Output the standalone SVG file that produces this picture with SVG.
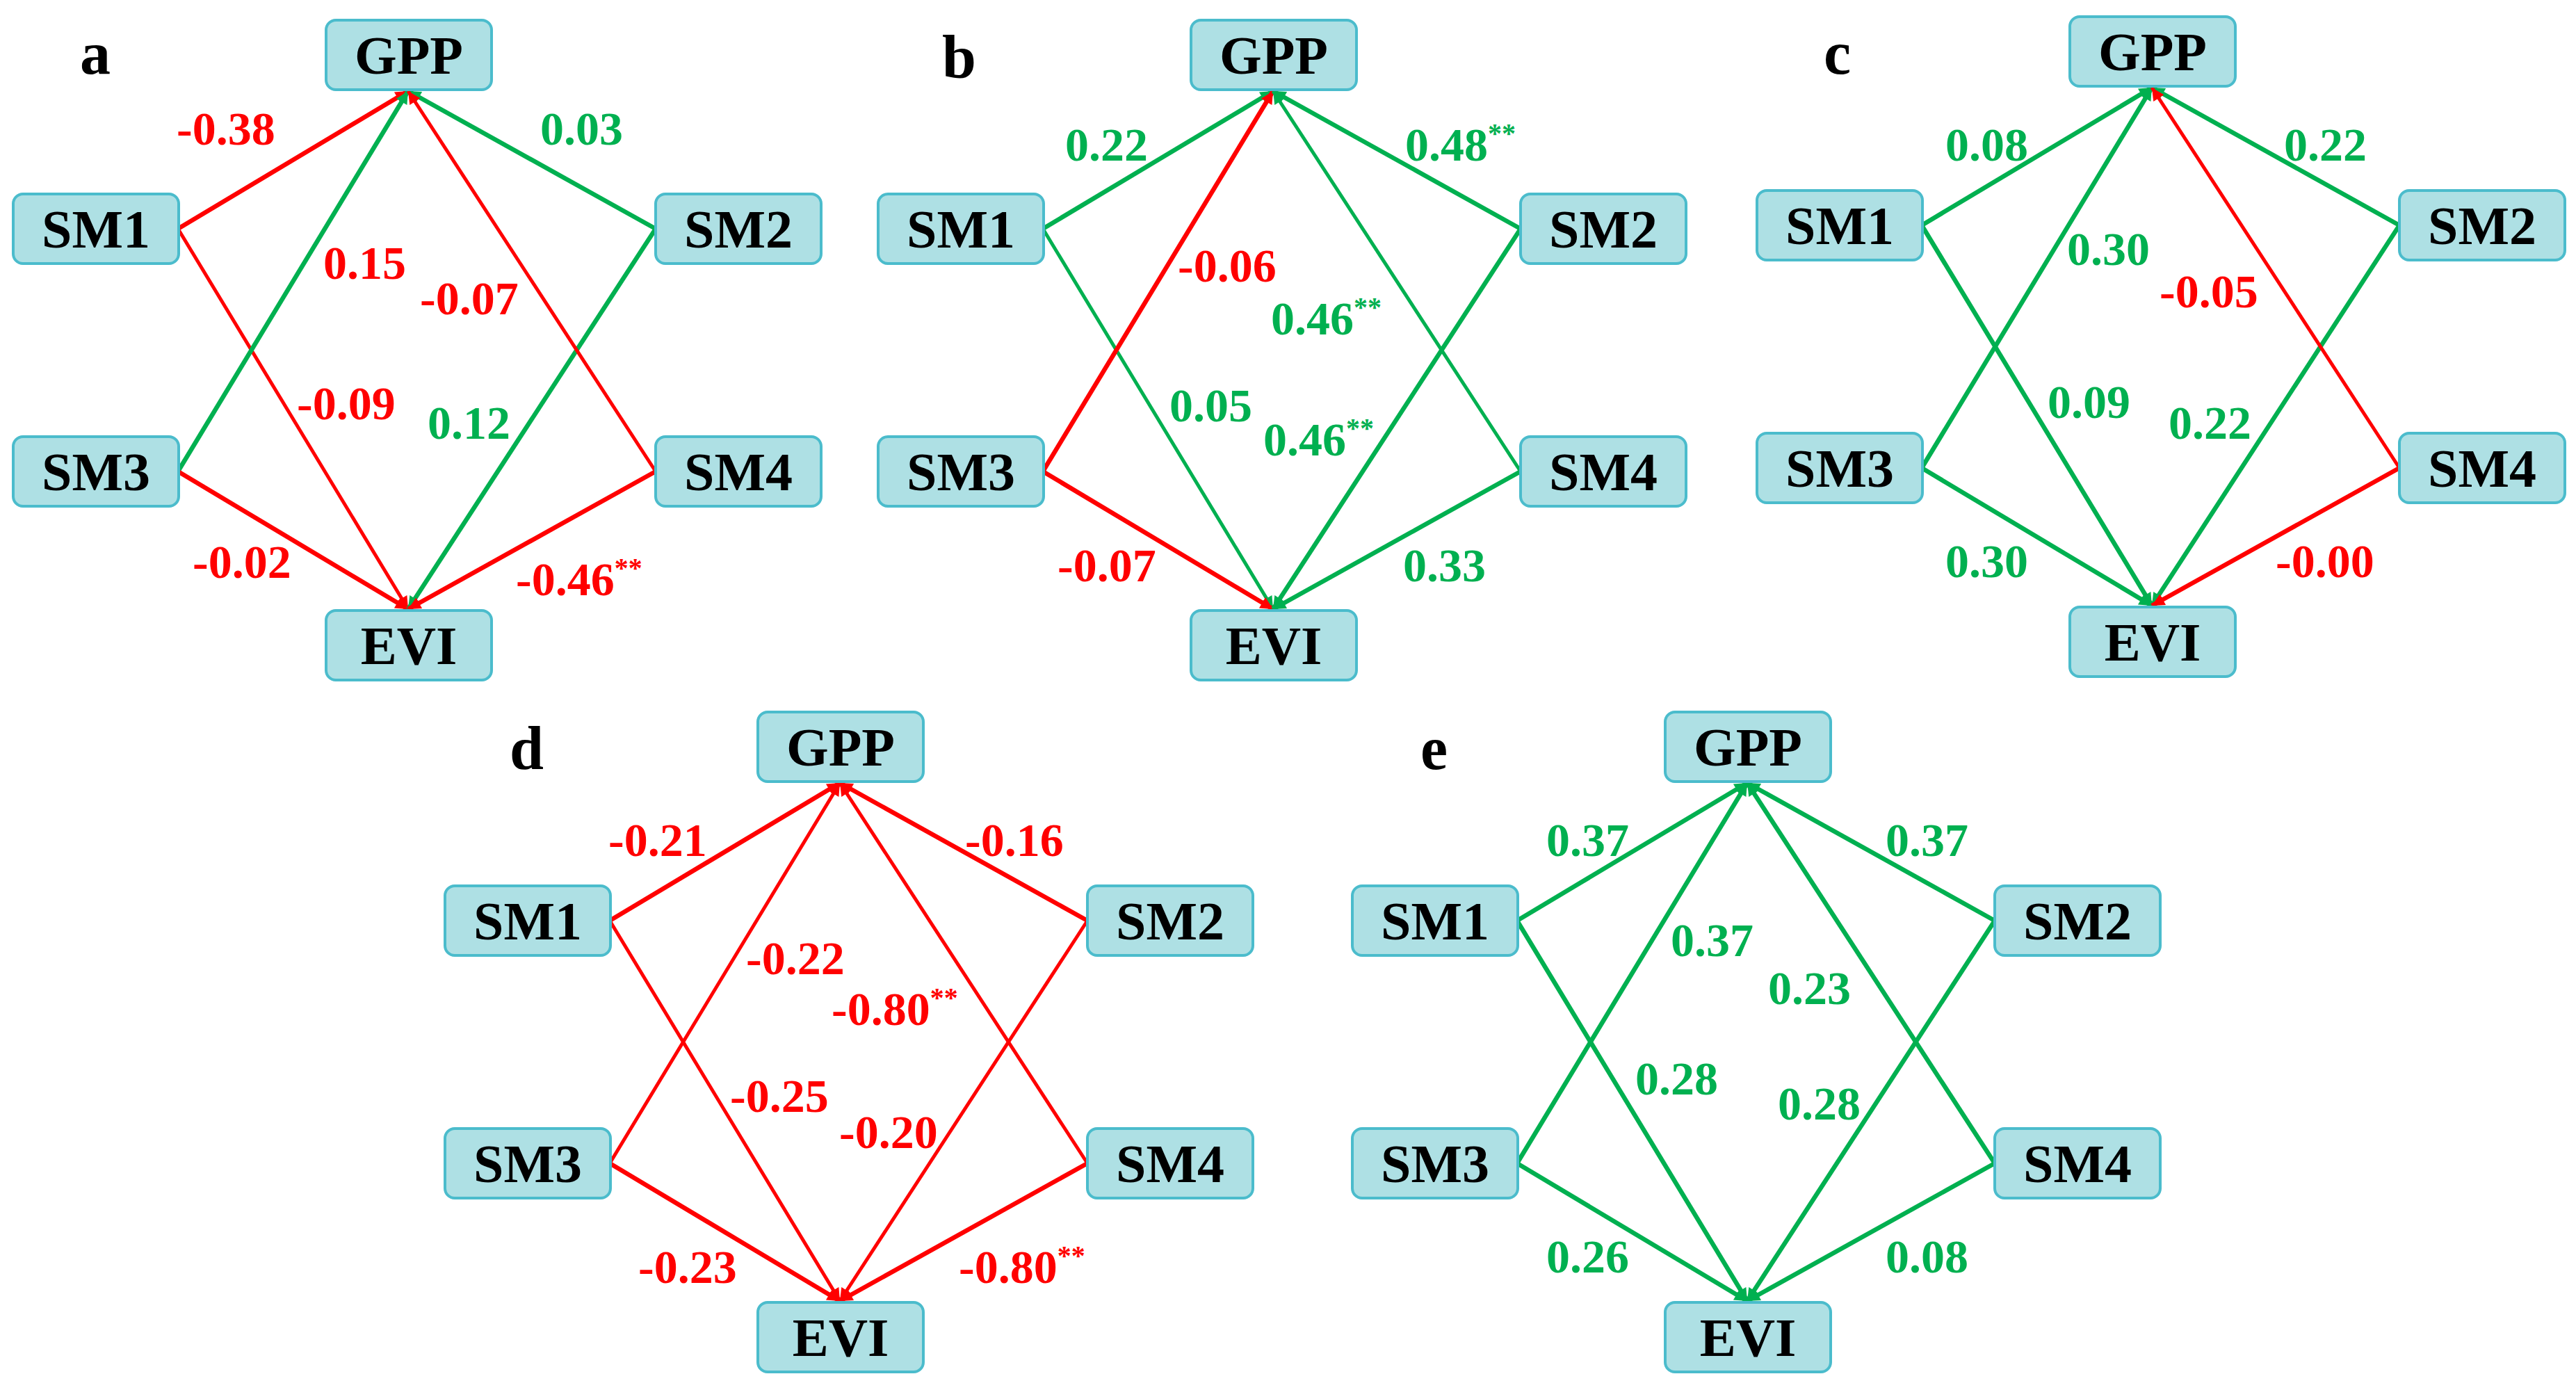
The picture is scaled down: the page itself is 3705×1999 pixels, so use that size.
<svg xmlns="http://www.w3.org/2000/svg" width="3705" height="1999" viewBox="0 0 3705 1999">
<style>
.n rect{fill:#aee0e4;stroke:#4bbccc;stroke-width:4}
.n text{font-family:"Liberation Serif",serif;font-weight:bold;font-size:78px;text-anchor:middle;fill:#000}
.pl{font-family:"Liberation Serif",serif;font-weight:bold;font-size:88px;fill:#000}
.r{stroke:#ff0000;fill:none}
.g{stroke:#00b050;fill:none}
.w{stroke-width:6.5}
.t{stroke-width:5}
.lr,.lg{font-family:"Liberation Serif",serif;font-weight:bold;font-size:68px}
.lr{fill:#ff0000}.lg{fill:#00b050}
.s{font-size:40px}
</style>
<defs>
<marker id="ar" viewBox="0 0 10 10" refX="10" refY="5" markerWidth="24" markerHeight="18" markerUnits="userSpaceOnUse" orient="auto"><path d="M0,0L10,5L0,10z" fill="#ff0000"/></marker>
<marker id="ag" viewBox="0 0 10 10" refX="10" refY="5" markerWidth="24" markerHeight="18" markerUnits="userSpaceOnUse" orient="auto"><path d="M0,0L10,5L0,10z" fill="#00b050"/></marker>
</defs>
<rect width="3705" height="1999" fill="#fff"/>

<g id="panel-a">
<text class="pl" x="115" y="106">a</text>
<g id="a-connectors">
<line class="r w" x1="256" y1="329" x2="587" y2="131" marker-end="url(#ar)"/>
<line class="r t" x1="256" y1="329" x2="587" y2="876" marker-end="url(#ar)"/>
<line class="g w" x1="256" y1="678" x2="587" y2="131" marker-end="url(#ag)"/>
<line class="r w" x1="256" y1="678" x2="587" y2="876" marker-end="url(#ar)"/>
<line class="g w" x1="943" y1="329" x2="587" y2="131" marker-end="url(#ag)"/>
<line class="g w" x1="943" y1="329" x2="587" y2="876" marker-end="url(#ag)"/>
<line class="r t" x1="943" y1="678" x2="587" y2="131" marker-end="url(#ar)"/>
<line class="r w" x1="943" y1="678" x2="587" y2="876" marker-end="url(#ar)"/>
<text class="lr" x="254" y="208">-0.38</text>
<text class="lg" x="777" y="208">0.03</text>
<text class="lr" x="465" y="401">0.15</text>
<text class="lr" x="604" y="452">-0.07</text>
<text class="lr" x="427" y="603">-0.09</text>
<text class="lg" x="615" y="631">0.12</text>
<text class="lr" x="277" y="831">-0.02</text>
<text class="lr" x="742" y="856">-0.46<tspan class="s" dy="-26">**</tspan></text>
</g>
<g id="a-GPP" class="n"><rect x="469" y="29" width="238" height="100" rx="14"/><text x="588" y="106">GPP</text></g>
<g id="a-SM1" class="n"><rect x="19" y="279" width="238" height="100" rx="14"/><text x="138" y="356">SM1</text></g>
<g id="a-SM2" class="n"><rect x="943" y="279" width="238" height="100" rx="14"/><text x="1062" y="356">SM2</text></g>
<g id="a-SM3" class="n"><rect x="19" y="628" width="238" height="100" rx="14"/><text x="138" y="705">SM3</text></g>
<g id="a-SM4" class="n"><rect x="943" y="628" width="238" height="100" rx="14"/><text x="1062" y="705">SM4</text></g>
<g id="a-EVI" class="n"><rect x="469" y="878" width="238" height="100" rx="14"/><text x="588" y="955">EVI</text></g>
</g>

<g id="panel-b" transform="translate(1244,0)">
<text class="pl" x="111" y="112">b</text>
<g id="b-connectors">
<line class="g w" x1="256" y1="329" x2="587" y2="131" marker-end="url(#ag)"/>
<line class="g t" x1="256" y1="329" x2="587" y2="876" marker-end="url(#ag)"/>
<line class="r w" x1="256" y1="678" x2="587" y2="131" marker-end="url(#ar)"/>
<line class="r w" x1="256" y1="678" x2="587" y2="876" marker-end="url(#ar)"/>
<line class="g w" x1="943" y1="329" x2="587" y2="131" marker-end="url(#ag)"/>
<line class="g w" x1="943" y1="329" x2="587" y2="876" marker-end="url(#ag)"/>
<line class="g t" x1="943" y1="678" x2="587" y2="131" marker-end="url(#ag)"/>
<line class="g w" x1="943" y1="678" x2="587" y2="876" marker-end="url(#ag)"/>
<text class="lg" x="288" y="231">0.22</text>
<text class="lg" x="777" y="231">0.48<tspan class="s" dy="-26">**</tspan></text>
<text class="lr" x="450" y="405">-0.06</text>
<text class="lg" x="584" y="481">0.46<tspan class="s" dy="-26">**</tspan></text>
<text class="lg" x="438" y="606">0.05</text>
<text class="lg" x="573" y="655">0.46<tspan class="s" dy="-26">**</tspan></text>
<text class="lr" x="277" y="836">-0.07</text>
<text class="lg" x="774" y="836">0.33</text>
</g>
<g id="b-GPP" class="n"><rect x="469" y="29" width="238" height="100" rx="14"/><text x="588" y="106">GPP</text></g>
<g id="b-SM1" class="n"><rect x="19" y="279" width="238" height="100" rx="14"/><text x="138" y="356">SM1</text></g>
<g id="b-SM2" class="n"><rect x="943" y="279" width="238" height="100" rx="14"/><text x="1062" y="356">SM2</text></g>
<g id="b-SM3" class="n"><rect x="19" y="628" width="238" height="100" rx="14"/><text x="138" y="705">SM3</text></g>
<g id="b-SM4" class="n"><rect x="943" y="628" width="238" height="100" rx="14"/><text x="1062" y="705">SM4</text></g>
<g id="b-EVI" class="n"><rect x="469" y="878" width="238" height="100" rx="14"/><text x="588" y="955">EVI</text></g>
</g>

<g id="panel-c" transform="translate(2508,-5)">
<text class="pl" x="115" y="111">c</text>
<g id="c-connectors">
<line class="g w" x1="256" y1="329" x2="587" y2="131" marker-end="url(#ag)"/>
<line class="g w" x1="256" y1="329" x2="587" y2="876" marker-end="url(#ag)"/>
<line class="g w" x1="256" y1="678" x2="587" y2="131" marker-end="url(#ag)"/>
<line class="g w" x1="256" y1="678" x2="587" y2="876" marker-end="url(#ag)"/>
<line class="g w" x1="943" y1="329" x2="587" y2="131" marker-end="url(#ag)"/>
<line class="g w" x1="943" y1="329" x2="587" y2="876" marker-end="url(#ag)"/>
<line class="r t" x1="943" y1="678" x2="587" y2="131" marker-end="url(#ar)"/>
<line class="r w" x1="943" y1="678" x2="587" y2="876" marker-end="url(#ar)"/>
<text class="lg" x="290" y="236">0.08</text>
<text class="lg" x="777" y="236">0.22</text>
<text class="lg" x="465" y="386">0.30</text>
<text class="lr" x="598" y="447">-0.05</text>
<text class="lg" x="437" y="606">0.09</text>
<text class="lg" x="611" y="636">0.22</text>
<text class="lg" x="290" y="835">0.30</text>
<text class="lr" x="765" y="835">-0.00</text>
</g>
<g id="c-GPP" class="n"><rect x="469" y="29" width="238" height="100" rx="14"/><text x="588" y="106">GPP</text></g>
<g id="c-SM1" class="n"><rect x="19" y="279" width="238" height="100" rx="14"/><text x="138" y="356">SM1</text></g>
<g id="c-SM2" class="n"><rect x="943" y="279" width="238" height="100" rx="14"/><text x="1062" y="356">SM2</text></g>
<g id="c-SM3" class="n"><rect x="19" y="628" width="238" height="100" rx="14"/><text x="138" y="705">SM3</text></g>
<g id="c-SM4" class="n"><rect x="943" y="628" width="238" height="100" rx="14"/><text x="1062" y="705">SM4</text></g>
<g id="c-EVI" class="n"><rect x="469" y="878" width="238" height="100" rx="14"/><text x="588" y="955">EVI</text></g>
</g>

<g id="panel-d" transform="translate(621,995)">
<text class="pl" x="112" y="111">d</text>
<g id="d-connectors">
<line class="r w" x1="256" y1="329" x2="587" y2="131" marker-end="url(#ar)"/>
<line class="r t" x1="256" y1="329" x2="587" y2="876" marker-end="url(#ar)"/>
<line class="r t" x1="256" y1="678" x2="587" y2="131" marker-end="url(#ar)"/>
<line class="r w" x1="256" y1="678" x2="587" y2="876" marker-end="url(#ar)"/>
<line class="r w" x1="943" y1="329" x2="587" y2="131" marker-end="url(#ar)"/>
<line class="r t" x1="943" y1="329" x2="587" y2="876" marker-end="url(#ar)"/>
<line class="r t" x1="943" y1="678" x2="587" y2="131" marker-end="url(#ar)"/>
<line class="r w" x1="943" y1="678" x2="587" y2="876" marker-end="url(#ar)"/>
<text class="lr" x="254" y="236">-0.21</text>
<text class="lr" x="767" y="236">-0.16</text>
<text class="lr" x="452" y="406">-0.22</text>
<text class="lr" x="575" y="479">-0.80<tspan class="s" dy="-26">**</tspan></text>
<text class="lr" x="429" y="604">-0.25</text>
<text class="lr" x="586" y="656">-0.20</text>
<text class="lr" x="297" y="850">-0.23</text>
<text class="lr" x="758" y="850">-0.80<tspan class="s" dy="-26">**</tspan></text>
</g>
<g id="d-GPP" class="n"><rect x="469" y="29" width="238" height="100" rx="14"/><text x="588" y="106">GPP</text></g>
<g id="d-SM1" class="n"><rect x="19" y="279" width="238" height="100" rx="14"/><text x="138" y="356">SM1</text></g>
<g id="d-SM2" class="n"><rect x="943" y="279" width="238" height="100" rx="14"/><text x="1062" y="356">SM2</text></g>
<g id="d-SM3" class="n"><rect x="19" y="628" width="238" height="100" rx="14"/><text x="138" y="705">SM3</text></g>
<g id="d-SM4" class="n"><rect x="943" y="628" width="238" height="100" rx="14"/><text x="1062" y="705">SM4</text></g>
<g id="d-EVI" class="n"><rect x="469" y="878" width="238" height="100" rx="14"/><text x="588" y="955">EVI</text></g>
</g>

<g id="panel-e" transform="translate(1926,995)">
<text class="pl" x="117" y="111">e</text>
<g id="e-connectors">
<line class="g w" x1="256" y1="329" x2="587" y2="131" marker-end="url(#ag)"/>
<line class="g w" x1="256" y1="329" x2="587" y2="876" marker-end="url(#ag)"/>
<line class="g w" x1="256" y1="678" x2="587" y2="131" marker-end="url(#ag)"/>
<line class="g w" x1="256" y1="678" x2="587" y2="876" marker-end="url(#ag)"/>
<line class="g w" x1="943" y1="329" x2="587" y2="131" marker-end="url(#ag)"/>
<line class="g w" x1="943" y1="329" x2="587" y2="876" marker-end="url(#ag)"/>
<line class="g w" x1="943" y1="678" x2="587" y2="131" marker-end="url(#ag)"/>
<line class="g w" x1="943" y1="678" x2="587" y2="876" marker-end="url(#ag)"/>
<text class="lg" x="298" y="236">0.37</text>
<text class="lg" x="786" y="236">0.37</text>
<text class="lg" x="477" y="380">0.37</text>
<text class="lg" x="617" y="449">0.23</text>
<text class="lg" x="426" y="579">0.28</text>
<text class="lg" x="631" y="615">0.28</text>
<text class="lg" x="298" y="835">0.26</text>
<text class="lg" x="786" y="835">0.08</text>
</g>
<g id="e-GPP" class="n"><rect x="469" y="29" width="238" height="100" rx="14"/><text x="588" y="106">GPP</text></g>
<g id="e-SM1" class="n"><rect x="19" y="279" width="238" height="100" rx="14"/><text x="138" y="356">SM1</text></g>
<g id="e-SM2" class="n"><rect x="943" y="279" width="238" height="100" rx="14"/><text x="1062" y="356">SM2</text></g>
<g id="e-SM3" class="n"><rect x="19" y="628" width="238" height="100" rx="14"/><text x="138" y="705">SM3</text></g>
<g id="e-SM4" class="n"><rect x="943" y="628" width="238" height="100" rx="14"/><text x="1062" y="705">SM4</text></g>
<g id="e-EVI" class="n"><rect x="469" y="878" width="238" height="100" rx="14"/><text x="588" y="955">EVI</text></g>
</g>
</svg>
